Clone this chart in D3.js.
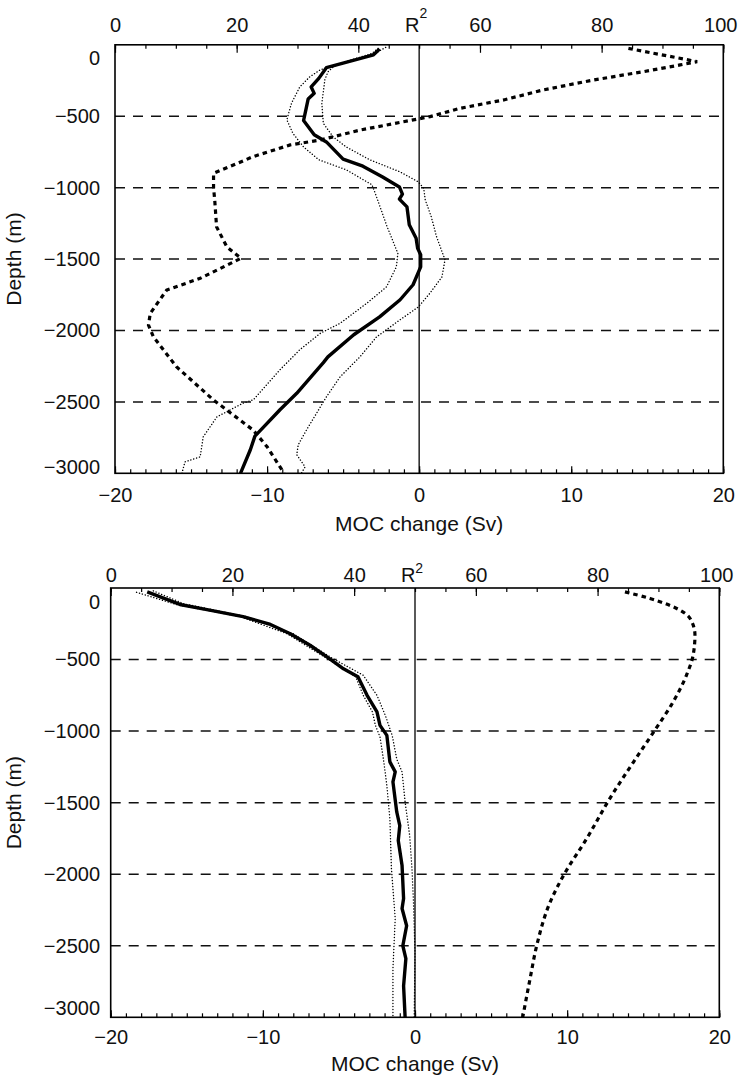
<!DOCTYPE html>
<html>
<head>
<meta charset="utf-8">
<script src="https://cdn.jsdelivr.net/npm/d3@7"></script>
<style>
  body { margin: 0; background: #fff; }
  svg { display: block; font-family: "Liberation Sans", Arial, Helvetica, sans-serif; }
</style>
</head>
<body>
<div id="chart"></div>
<script>
// Values: [depth (m), value]
// Upper panel
const topMean = [[-30,-2.6],[-70,-3.0],[-160,-6.1],[-235,-6.6],[-295,-7.1],[-340,-6.9],[-380,-7.3],[-455,-7.45],[-530,-7.6],[-630,-6.9],[-680,-6.1],[-800,-5.0],[-850,-3.7],[-925,-2.4],[-995,-1.3],[-1045,-1.1],[-1080,-1.3],[-1135,-0.8],[-1260,-0.65],[-1355,-0.2],[-1425,-0.1],[-1470,0.1],[-1555,0.1],[-1680,-0.4],[-1785,-1.25],[-1905,-2.6],[-2030,-4.3],[-2185,-6.0],[-2225,-6.3],[-2440,-8.05],[-2555,-9.15],[-2740,-10.8],[-2835,-11.1],[-3000,-11.75]];
const topLower = [[-25,-2.7],[-60,-3.1],[-175,-6.5],[-225,-7.2],[-295,-7.85],[-410,-8.4],[-525,-8.7],[-620,-8.3],[-715,-7.6],[-805,-6.6],[-875,-4.8],[-980,-3.1],[-1065,-2.8],[-1275,-2.1],[-1460,-1.4],[-1555,-1.5],[-1695,-2.15],[-1810,-3.45],[-1950,-5.2],[-2020,-6.5],[-2135,-7.85],[-2275,-9.15],[-2485,-10.9],[-2510,-11.6],[-2605,-13.3],[-2745,-14.2],[-2885,-14.4],[-2920,-15.4],[-3000,-15.6]];
const topUpper = [[-18,-2.2],[-60,-2.9],[-150,-5.6],[-190,-6.0],[-245,-6.2],[-410,-6.4],[-550,-6.3],[-645,-5.65],[-715,-4.8],[-805,-3.25],[-890,-1.25],[-960,-0.05],[-1005,0.3],[-1085,0.4],[-1205,0.8],[-1345,1.15],[-1505,1.7],[-1625,1.5],[-1740,0.7],[-1835,-0.05],[-1925,-1.25],[-2045,-2.8],[-2185,-3.9],[-2325,-5.2],[-2465,-6.1],[-2580,-6.75],[-2695,-7.4],[-2800,-7.95],[-2870,-8.05],[-2955,-7.5],[-3000,-7.75]];
const topR2 = [[-25,84.4],[-118,95.7],[-141,92.9],[-188,86.9],[-246,78.7],[-316,70.4],[-386,63.9],[-445,56.7],[-503,51.8],[-597,40.3],[-667,33.7],[-701,28.8],[-783,22.7],[-900,16.2],[-1000,16.2],[-1090,16.4],[-1275,16.7],[-1415,18.4],[-1495,20.7],[-1635,14.0],[-1717,8.5],[-1880,5.8],[-1962,5.5],[-2043,6.3],[-2254,10.1],[-2487,16.2],[-2697,22.7],[-2814,25.0],[-3000,27.8]];

// Lower panel
const botMean = [[-27,-17.6],[-115,-15.45],[-155,-13.5],[-200,-11.3],[-255,-9.5],[-320,-8.2],[-400,-6.9],[-495,-5.6],[-565,-4.7],[-620,-3.75],[-750,-3.15],[-865,-2.5],[-960,-2.3],[-1030,-1.85],[-1215,-1.65],[-1285,-1.3],[-1355,-1.45],[-1565,-1.2],[-1660,-1.0],[-1765,-1.1],[-1940,-0.85],[-2170,-0.75],[-2240,-0.85],[-2360,-0.55],[-2500,-0.8],[-2590,-0.6],[-2780,-0.75],[-3000,-0.65]];
const botLower = [[-30,-18.3],[-115,-15.7],[-200,-11.5],[-320,-8.4],[-495,-5.75],[-620,-3.9],[-750,-3.4],[-865,-2.8],[-960,-2.6],[-1040,-2.3],[-1215,-2.05],[-1380,-1.85],[-1615,-1.65],[-1960,-1.55],[-2310,-1.3],[-2660,-1.45],[-3000,-1.45]];
const botUpper = [[-20,-17.2],[-110,-15.2],[-200,-11.1],[-320,-8.0],[-490,-5.45],[-610,-3.4],[-750,-2.5],[-890,-1.95],[-1030,-1.5],[-1195,-1.2],[-1285,-0.85],[-1495,-0.65],[-1730,-0.35],[-1960,-0.2],[-2195,-0.1],[-2545,0.0],[-3000,-0.05]];
const botR2 = [[-27,84.5],[-73,88.6],[-143,93.0],[-213,95.2],[-330,96.0],[-470,95.7],[-610,94.6],[-797,92.4],[-1007,89.2],[-1216,85.9],[-1472,82.0],[-1752,78.2],[-2009,74.4],[-2196,72.2],[-2499,70.0],[-2732,68.9],[-3000,67.7]];

// Axis ticks
const depthTicks = [0, -500, -1000, -1500, -2000, -2500, -3000];
const gridDepths = [-500, -1000, -1500, -2000, -2500];
const mocTicks = [-20, -10, 0, 10, 20];
const r2Ticks = [0, 20, 40, 60, 80, 100];

const width = 738, height = 1078;

const svg = d3.select('#chart')
      .append('svg')
      .attr('width', width)
      .attr('height', height)
      .style('background-color', '#ffffff');

const panels = [
  {
    id: 'a', left: 115, right: 723.3, top: 44.8, bottom: 473.3,
    topPad: 12.5, botPad: 14.5, leftPad: 15, zeroShift: 13, endShift: -6, titleY: 50,
    mean: topMean, lower: topLower, upper: topUpper, r2: topR2, r2Curve: d3.curveLinear,
    supDy: -14
  },
  {
    id: 'b', left: 110.7, right: 719.3, top: 588, bottom: 1017.3,
    topPad: 5.7, botPad: 12.5, leftPad: 10.7, zeroShift: 14, endShift: -9, titleY: 46,
    mean: botMean, lower: botLower, upper: botUpper, r2: botR2, r2Curve: d3.curveMonotoneY,
    supDy: -9
  }
];

panels.forEach((p) => {
  const x = d3.scaleLinear().domain([-20, 20]).range([p.left, p.right]);
  const xr = d3.scaleLinear().domain([0, 100]).range([p.left, p.right]);
  const y = d3.scaleLinear().domain([0, -3000]).range([p.top, p.bottom]);

  const g = svg.append('g').attr('class', 'panel-' + p.id);

  g.append('clipPath')
    .attr('id', 'clip-' + p.id)
    .append('rect')
    .attr('x', p.left)
    .attr('y', p.top)
    .attr('width', p.right - p.left)
    .attr('height', p.bottom - p.top);

  // Dashed depth grid
  g.append('g')
    .selectAll('line')
    .data(gridDepths)
    .join('line')
    .attr('x1', p.left)
    .attr('x2', p.right)
    .attr('y1', d => y(d))
    .attr('y2', d => y(d))
    .attr('stroke', '#111')
    .attr('stroke-width', 1.5)
    .attr('stroke-dasharray', '10,8');

  // Zero line
  g.append('line')
    .attr('x1', x(0)).attr('x2', x(0))
    .attr('y1', p.top).attr('y2', p.bottom)
    .attr('stroke', '#000')
    .attr('stroke-width', 1.3);

  const curves = g.append('g').attr('clip-path', 'url(#clip-' + p.id + ')');

  const mocLine = d3.line()
        .x(d => x(d[1]))
        .y(d => y(d[0]));

  [p.lower, p.upper].forEach((s) => {
    curves.append('path')
      .datum(s)
      .attr('d', mocLine)
      .attr('fill', 'none')
      .attr('stroke', '#000')
      .attr('stroke-width', 1.4)
      .attr('stroke-linecap', 'round')
      .attr('stroke-dasharray', '0.1,2.9');
  });

  curves.append('path')
    .datum(p.mean)
    .attr('d', mocLine)
    .attr('fill', 'none')
    .attr('stroke', '#000')
    .attr('stroke-width', 3.4)
    .attr('stroke-linejoin', 'round');

  curves.append('path')
    .datum(p.r2)
    .attr('d', d3.line().curve(p.r2Curve).x(d => xr(d[1])).y(d => y(d[0])))
    .attr('fill', 'none')
    .attr('stroke', '#000')
    .attr('stroke-width', 3.2)
    .attr('stroke-dasharray', '4.5,4');

  // Bottom axis (MOC change)
  const bottomMinor = g.append('g')
        .attr('transform', `translate(0,${p.bottom})`)
        .call(d3.axisBottom(x).tickValues(d3.range(-20, 21, 1)).tickSize(-4).tickFormat(''));
  const bottomMajor = g.append('g')
        .attr('transform', `translate(0,${p.bottom})`)
        .call(d3.axisBottom(x).tickValues(mocTicks).tickSize(-7).tickPadding(p.botPad)
              .tickFormat(d3.format('d')));

  // Top axis (R2)
  const topMinor = g.append('g')
        .attr('transform', `translate(0,${p.top})`)
        .call(d3.axisTop(xr).tickValues(d3.range(0, 101, 5)).tickSize(-4).tickFormat(''));
  const topMajor = g.append('g')
        .attr('transform', `translate(0,${p.top})`)
        .call(d3.axisTop(xr).tickValues(r2Ticks).tickSize(-8).tickPadding(p.topPad)
              .tickFormat(d3.format('d')));
  // keep "100" inside the page
  topMajor.selectAll('.tick text')
    .attr('transform', d => d === 100 ? 'translate(-3,0)' : null);

  // Left axis (depth)
  const leftAxis = g.append('g')
        .attr('transform', `translate(${p.left},0)`)
        .call(d3.axisLeft(y).tickValues(depthTicks).tickSize(0).tickPadding(p.leftPad)
              .tickFormat(d3.format('d')));
  leftAxis.selectAll('.tick text')
    .attr('transform', d => d === 0 ? `translate(0,${p.zeroShift})` : (d === -3000 ? `translate(0,${p.endShift})` : null));

  [bottomMinor, bottomMajor, topMinor, topMajor, leftAxis].forEach((a) => {
    a.select('.domain').remove();
    a.selectAll('.tick line').attr('stroke', '#000').attr('stroke-width', 1.2);
    a.selectAll('.tick text')
      .attr('fill', '#111')
      .style('font-size', '20px')
      .style('font-family', '"Liberation Sans", Arial, sans-serif');
  });

  // R2 label sitting at 50 on the top axis
  const r2Label = g.append('text')
        .attr('x', xr(50) - 3)
        .attr('y', p.top - p.topPad)
        .attr('text-anchor', 'middle')
        .attr('fill', '#111')
        .style('font-size', '20px');
  r2Label.append('tspan').text('R');
  r2Label.append('tspan')
    .attr('dy', p.supDy)
    .style('font-size', '14px')
    .text('2');

  // Frame
  g.append('rect')
    .attr('x', p.left)
    .attr('y', p.top)
    .attr('width', p.right - p.left)
    .attr('height', p.bottom - p.top)
    .attr('fill', 'none')
    .attr('stroke', '#000')
    .attr('stroke-width', 1.6);

  // Axis titles
  g.append('text')
    .attr('x', x(0))
    .attr('y', p.bottom + p.titleY)
    .attr('dy', '0.35em')
    .attr('text-anchor', 'middle')
    .attr('fill', '#111')
    .style('font-size', '21px')
    .text('MOC change (Sv)');

  g.append('text')
    .attr('transform', `translate(14,${(p.top + p.bottom) / 2}) rotate(-90)`)
    .attr('dy', '0.35em')
    .attr('text-anchor', 'middle')
    .attr('fill', '#111')
    .style('font-size', '21px')
    .text('Depth (m)');
});
</script>
</body>
</html>
